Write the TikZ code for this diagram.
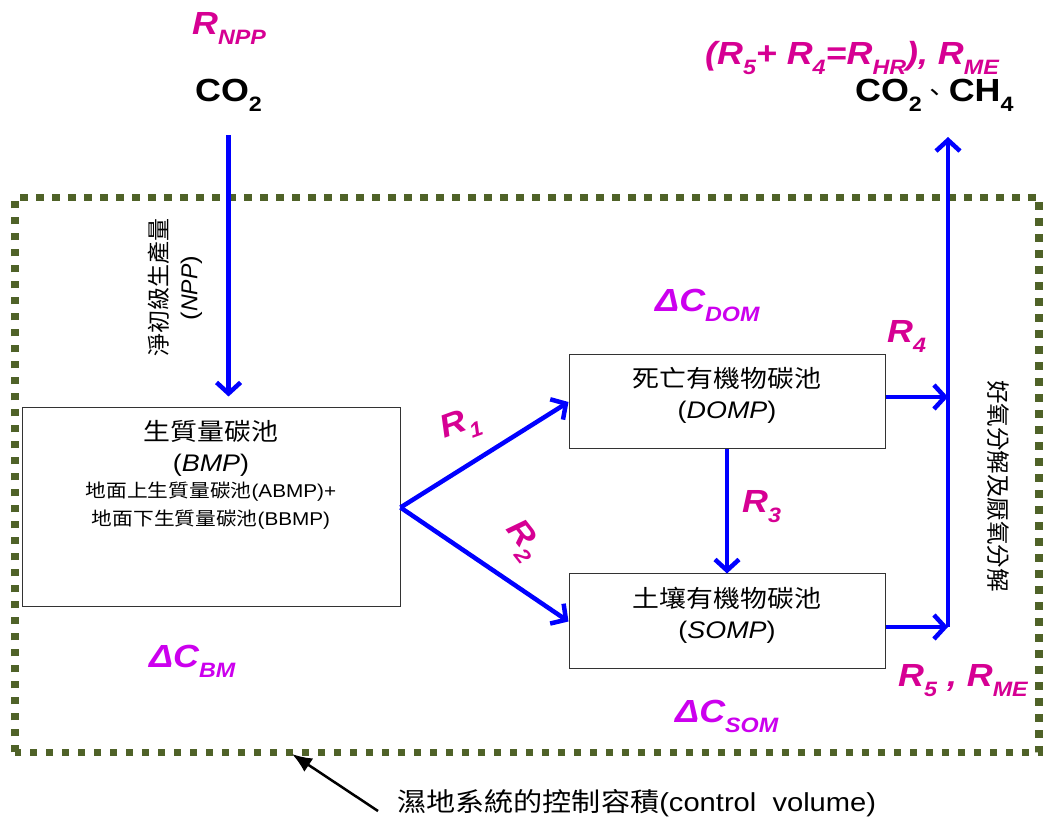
\documentclass[tikz,border=0pt]{standalone}
\usepackage{fontspec}
\setmainfont{Liberation Sans}[FakeStretch=1.12]
\newfontfamily\cjk{Noto Sans CJK TC}[FakeStretch=1.12]
\newfontfamily\cjkup{Noto Sans CJK TC}
\newfontfamily\latup{Liberation Sans}
\usetikzlibrary{arrows.meta}
\definecolor{framegreen}{RGB}{79,98,40}
\definecolor{rpink}{RGB}{214,0,147}
\definecolor{dpurple}{RGB}{204,0,238}
\definecolor{flowblue}{RGB}{0,0,255}
\newcommand{\idx}[1]{\raisebox{-0.3em}{\scalebox{0.65}{#1}}}
\newcommand{\subline}{\fontsize{18.5}{23}\selectfont}
\tikzset{
  frame/.style={draw=framegreen, line width=7.5pt, dash pattern=on 7.5pt off 8.5pt},
  pool/.style={draw=black!80, line width=1pt, inner sep=0pt},
  pooltext/.style={anchor=north, align=center, inner sep=0pt, font=\fontsize{24}{31}\selectfont},
  flow/.style={draw=flowblue, line width=4.5pt, -{Straight Barb[length=11pt,width=24pt]}},
  rate/.style={text=rpink, inner sep=0pt, font=\fontsize{32}{38}\selectfont\bfseries\itshape},
  stock/.style={text=dpurple, inner sep=0pt, anchor=base west, font=\fontsize{32}{38}\selectfont\bfseries\itshape},
  gas/.style={inner sep=0pt, anchor=base west, font=\fontsize{32}{38}\selectfont\bfseries},
  note/.style={draw, line width=2.5pt, -{Latex[length=20pt,width=16pt]}},
}
\begin{document}
\begin{tikzpicture}[x=1pt,y=1pt]
\useasboundingbox (0,0) rectangle (1045,820);
% control volume
\draw[frame] (15,67.5) rectangle (1039,622.5);

% carbon pools
\node[pool, minimum width=378pt, minimum height=199pt] (bmp) at (211,312.5) {};
\node[pool, minimum width=316pt, minimum height=94pt] (domp) at (727,418) {};
\node[pool, minimum width=316pt, minimum height=95pt] (somp) at (727,198.5) {};
\node[pooltext] (bmptxt) at ([yshift=-13pt]bmp.north) {{\cjk 生質量碳池}\\(\textit{BMP})\\[-5pt]
  \subline{\cjk 地面上生質量碳池}(ABMP)+\\[-3pt]\subline{\cjk 地面下生質量碳池}(BBMP)};
\node[pooltext] (domptxt) at ([yshift=-13pt]domp.north) {{\cjk 死亡有機物碳池}\\(\textit{DOMP})};
\node[pooltext] (somptxt) at ([yshift=-13pt]somp.north) {{\cjk 土壤有機物碳池}\\(\textit{SOMP})};

% gases in and out
\node[gas] (co2in) at (195,718) {CO\idx{2}};
\node[rate, anchor=base west] (rnpp) at (192,785) {R\idx{NPP}};
\node[gas] (co2out) at (855,718) {CO\idx{2}{\cjk\mdseries\fontsize{24}{24}\selectfont 、}CH\idx{4}};
\node[rate, anchor=base west] (rout) at (705,755) {(R\idx{5}+ R\idx{4}=R\idx{HR}), R\idx{ME}};

% flows
\coordinate (join) at (948,193);
\coordinate (vent) at (948,683);
\draw[flow, shorten <=23pt, shorten >=11pt] (co2in.south) -- (co2in.south |- bmp.north);
\draw[flow] (bmp.east) -- (domp.west);
\draw[flow] (bmp.east) -- (somp.west);
\draw[flow] (domp.south) -- (somp.north);
\draw[flow] ([yshift=5pt]domp.east) -- ([yshift=5pt]domp.east -| join);
\draw[flow] (somp.east |- join) -- (join);
\draw[flow] (join) -- (vent);

% rates and storage changes
\node[rate, rotate=20] (r1) at (461,394) {R\idx{1}};
\node[rate, rotate=-52] (r2) at (522,279) {R\idx{2}};
\node[rate, anchor=base west] (r3) at (742,307) {R\idx{3}};
\node[rate, anchor=base west] (r4) at (887,477) {R\idx{4}};
\node[rate, anchor=base west] (r5) at (898,133) {R\idx{5} , R\idx{ME}};
\node[stock] (dcdom) at (655,508) {ΔC\idx{DOM}};
\node[stock] (dcsom) at (675,97) {ΔC\idx{SOM}};
\node[stock] (dcbm) at (149,152) {ΔC\idx{BM}};

% side notes
\node[rotate=90, align=center, font=\fontsize{23}{30}\selectfont] (npp) at (175,532) {{\cjkup 淨初級生產量}\\({\latup\itshape NPP})};
\node[rotate=-90, font=\fontsize{23.5}{28}\selectfont\cjkup] (decomp) at (998,334) {好氧分解及厭氧分解};
\node[anchor=west, inner sep=0pt, font=\fontsize{26}{30}\selectfont] (cvtxt) at (397,17) {{\cjk 濕地系統的控制容積}(control\ \ volume)};
\coordinate (cvtip) at (292,66);
\draw[note] ([xshift=-19pt,yshift=-8pt]cvtxt.west) -- (cvtip);
\end{tikzpicture}
\end{document}
